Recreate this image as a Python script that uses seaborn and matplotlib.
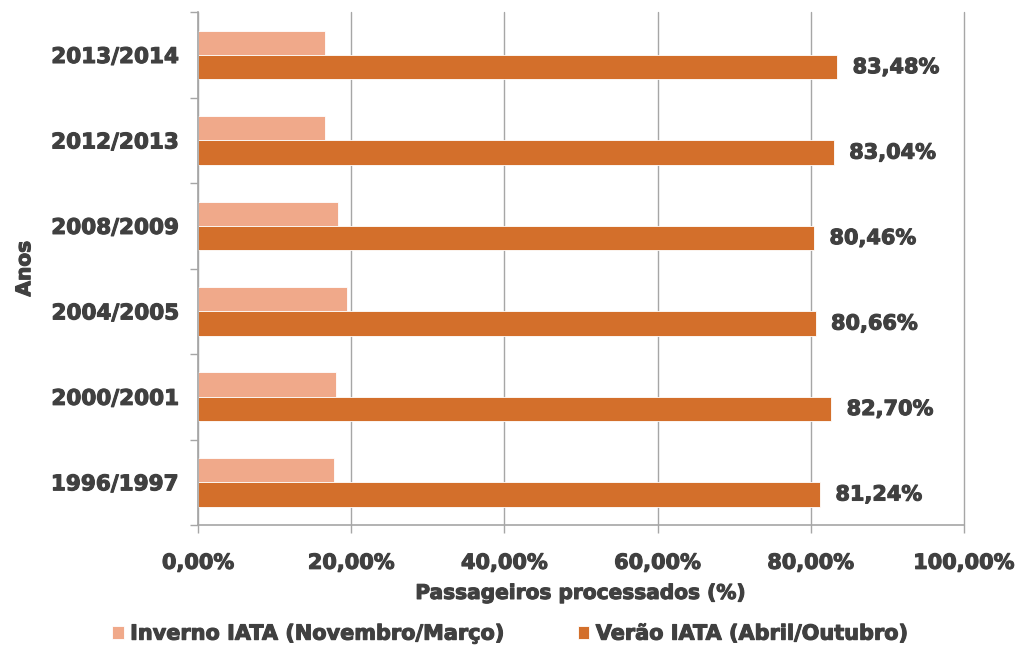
import pandas as pd
import matplotlib.pyplot as plt
import matplotlib.patheffects as pe
import seaborn as sns
from matplotlib.ticker import FuncFormatter

anos = ["2013/2014", "2012/2013", "2008/2009", "2004/2005", "2000/2001", "1996/1997"]
inverno = [16.52, 16.52, 18.3, 19.4, 18.0, 17.7]
verao = [83.48, 83.04, 80.46, 80.66, 82.70, 81.24]
serie_inverno = "Inverno IATA (Novembro/Março)"
serie_verao = "Verão IATA (Abril/Outubro)"

TEXT = "#404040"
GRID = "#A6A6A6"
HEAVY = [pe.withStroke(linewidth=0.8, foreground=TEXT)]


def build_frame():
    """Long-form table for seaborn."""
    rows = []
    for ano, w, s in zip(anos, inverno, verao):
        rows.append({"Ano": ano, "Serie": serie_inverno, "Valor": w})
        rows.append({"Ano": ano, "Serie": serie_verao, "Valor": s})
    return pd.DataFrame(rows)


def pct(v):
    return f"{v:.2f}%".replace(".", ",")


def plot_chart(df):
    sns.set_style("white")
    plt.rcParams["font.family"] = ["DejaVu Sans"]
    fig = plt.figure(figsize=(10.21, 6.45), dpi=100)
    ax = fig.add_axes([0.194, 0.186, 0.75, 0.795])
    sns.barplot(
        data=df, y="Ano", x="Valor", hue="Serie", order=anos,
        hue_order=[serie_inverno, serie_verao],
        palette=["#F0A98A", "#D36F2B"], orient="h", width=0.57,
        saturation=1, ax=ax, legend=True,
    )
    for p in ax.patches:
        p.set_edgecolor("white")
        p.set_linewidth(0.6)

    # labels on summer bars
    labels = ax.bar_label(
        ax.containers[1], labels=[pct(v) for v in verao],
        padding=11, fontsize=15, fontweight="bold", color=TEXT,
    )
    for t in labels:
        t.set_path_effects(HEAVY)

    ax.set_xlim(0, 100)
    ax.set_xticks(range(0, 101, 20))
    ax.xaxis.set_major_formatter(FuncFormatter(lambda v, _: pct(v)))
    ax.grid(axis="x", color=GRID, linewidth=1)
    for gl in ax.get_xgridlines():
        gl.set_clip_on(False)
    ax.set_axisbelow(True)

    # category boundary ticks on y axis
    ax.set_yticks([i - 0.5 for i in range(len(anos) + 1)], minor=True)
    ax.tick_params(axis="y", which="minor", length=6, color=GRID, width=1, direction="out", left=True)
    ax.tick_params(axis="y", which="major", length=0, pad=14, labelsize=15.5, labelcolor=TEXT)
    ax.tick_params(axis="x", length=6, color=GRID, width=1, direction="out", bottom=True, pad=14,
                   labelsize=15, labelcolor=TEXT)
    for t in ax.get_xticklabels() + ax.get_yticklabels():
        t.set_fontweight("bold")
        t.set_path_effects(HEAVY)

    for side in ["top", "right"]:
        ax.spines[side].set_visible(False)
    for side in ["left", "bottom"]:
        ax.spines[side].set_color(GRID)
        ax.spines[side].set_linewidth(1.2)

    ylab = ax.set_ylabel("Anos", fontsize=14.5, fontweight="bold", color=TEXT, labelpad=12)
    xlab = ax.set_xlabel("Passageiros processados (%)", fontsize=14.5, fontweight="bold",
                         color=TEXT, labelpad=8)
    ylab.set_path_effects(HEAVY)
    xlab.set_path_effects(HEAVY)

    handles, labs = ax.get_legend_handles_labels()
    ax.legend_.remove()
    leg = fig.legend(
        handles, labs, loc="lower center", bbox_to_anchor=(0.5, -0.027), ncol=2,
        frameon=False, handlelength=0.55, handleheight=0.55, handletextpad=0.3,
        columnspacing=3.5, prop={"size": 15, "weight": "bold"}, labelcolor=TEXT,
    )
    for t in leg.get_texts():
        t.set_path_effects(HEAVY)

    fig.savefig("out.png", dpi=100)
    plt.close(fig)


if __name__ == "__main__":
    plot_chart(build_frame())
